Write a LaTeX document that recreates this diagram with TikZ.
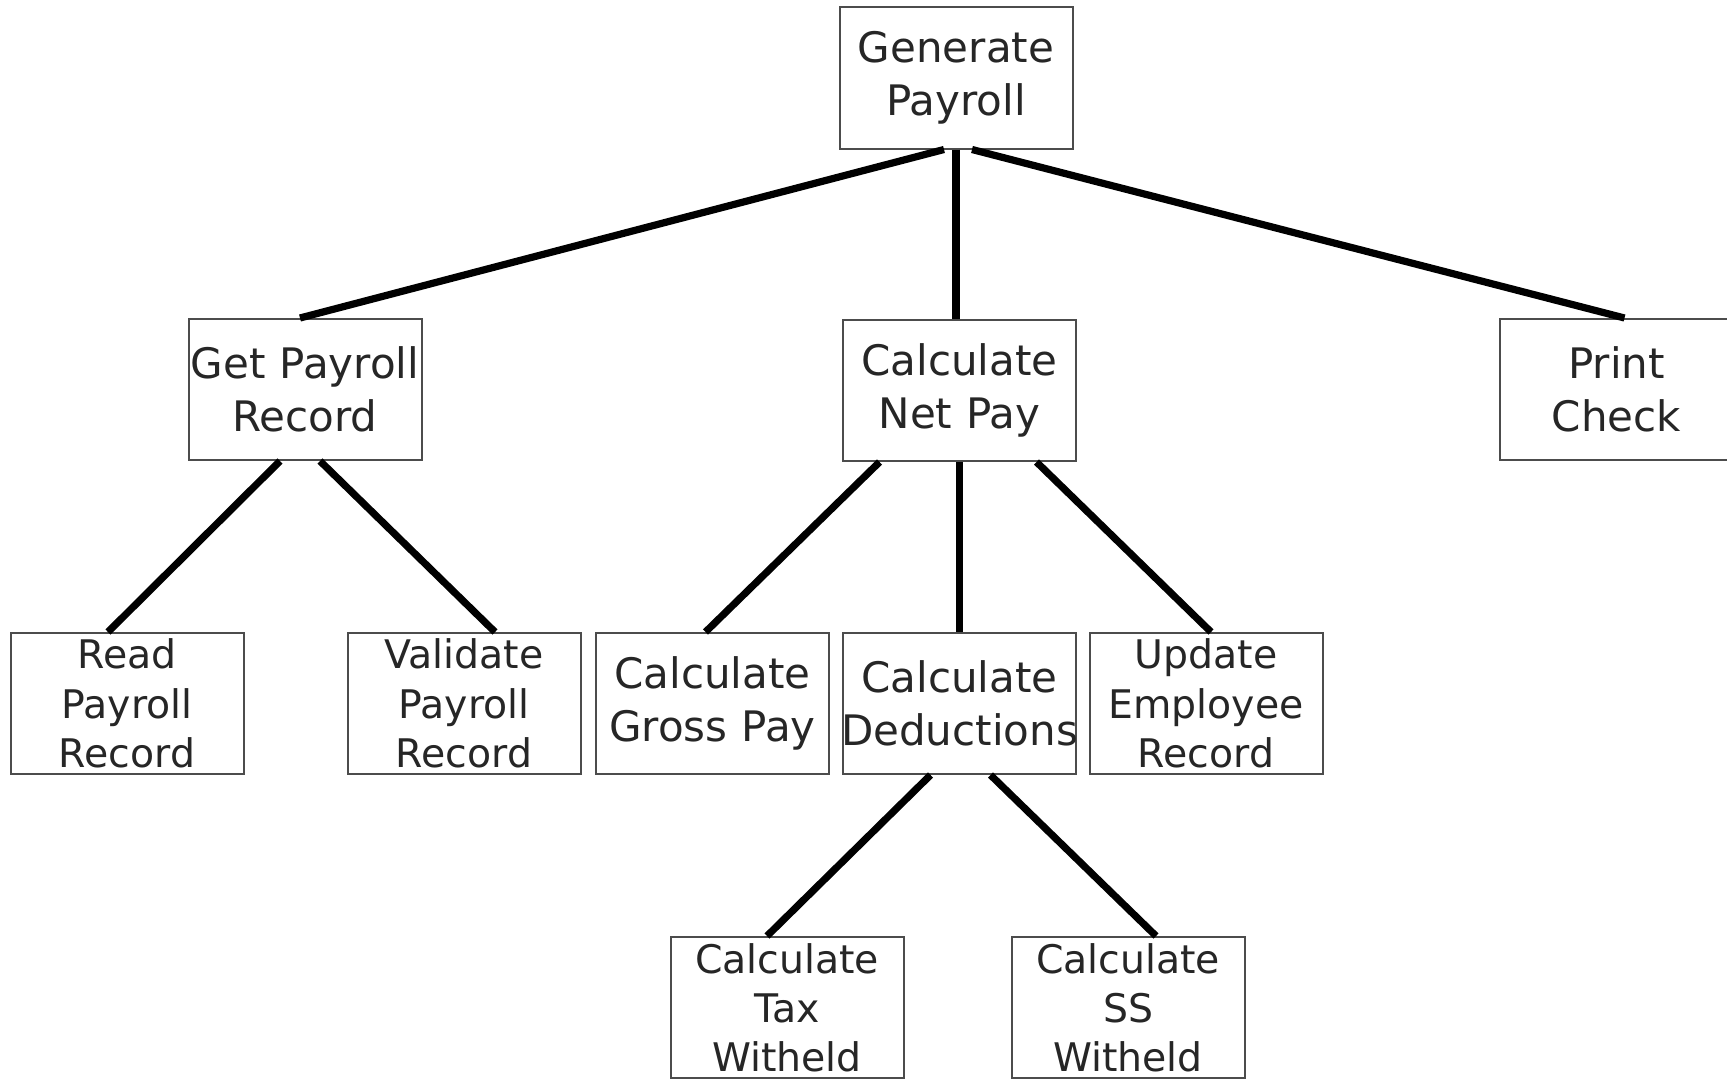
\documentclass[tikz,border=0pt]{standalone}
\usepackage{fontspec}
\setmainfont{DejaVu Sans}
\usetikzlibrary{calc}
\tikzset{
  box/.style={draw=black!70, line width=1pt, fill=white, inner sep=0pt,
    text width=116.5pt, minimum height=70.5pt, align=center,
    text=black!85, font=\fontsize{21}{26.5}\selectfont},
  box3/.style={box, font=\fontsize{19.7}{24.6}\selectfont},
  edge/.style={draw=black, line width=3.6pt}
}
\begin{document}
\begin{tikzpicture}[x=0.5pt,y=-0.5pt]
\useasboundingbox (0,0) rectangle (1727,1081);
% level 1
\node[box] (gen) at (956,78) {Generate\\Payroll};
% level 2
\node[box] (get) at (305,389.5) {Get Payroll\\Record};
\node[box] (net) at (959.5,390.5) {Calculate\\Net Pay};
\node[box] (print) at (1616.5,389.5) {Print\\Check};
% level 3
\node[box3] (read) at (127,703.5) {Read\\Payroll\\Record};
\node[box3] (valid) at (464,703.5) {Validate\\Payroll\\Record};
\node[box] (gross) at (712.5,703.5) {Calculate\\Gross Pay};
\node[box] (ded) at (959.5,703.5) {Calculate\\\makebox[116.5pt]{Deductions}};
\node[box3] (upd) at (1206,703.5) {Update\\Employee\\Record};
% level 4
\node[box3] (tax) at (787,1007.5) {Calculate\\Tax\\Witheld};
\node[box3] (ss) at (1128,1007.5) {Calculate\\SS\\Witheld};
% connectors
\draw[edge] ($(gen.south)+(-12,0)$) -- ($(get.north)+(-5,0)$);
\draw[edge] (gen.south) -- (gen.south |- net.north);
\draw[edge] ($(gen.south)+(16,0)$) -- ($(print.north)+(8,0)$);
\draw[edge] ($(get.south)+(-25,0)$) -- ($(read.north)+(-19,0)$);
\draw[edge] ($(get.south)+(15,0)$) -- ($(valid.north)+(31,0)$);
\draw[edge] ($(net.south)+(-80,0)$) -- ($(gross.north)+(-7,0)$);
\draw[edge] (net.south) -- (ded.north);
\draw[edge] ($(net.south)+(77,0)$) -- ($(upd.north)+(5,0)$);
\draw[edge] ($(ded.south)+(-29,0)$) -- ($(tax.north)+(-20,0)$);
\draw[edge] ($(ded.south)+(31,0)$) -- ($(ss.north)+(28,0)$);
\end{tikzpicture}
\end{document}
